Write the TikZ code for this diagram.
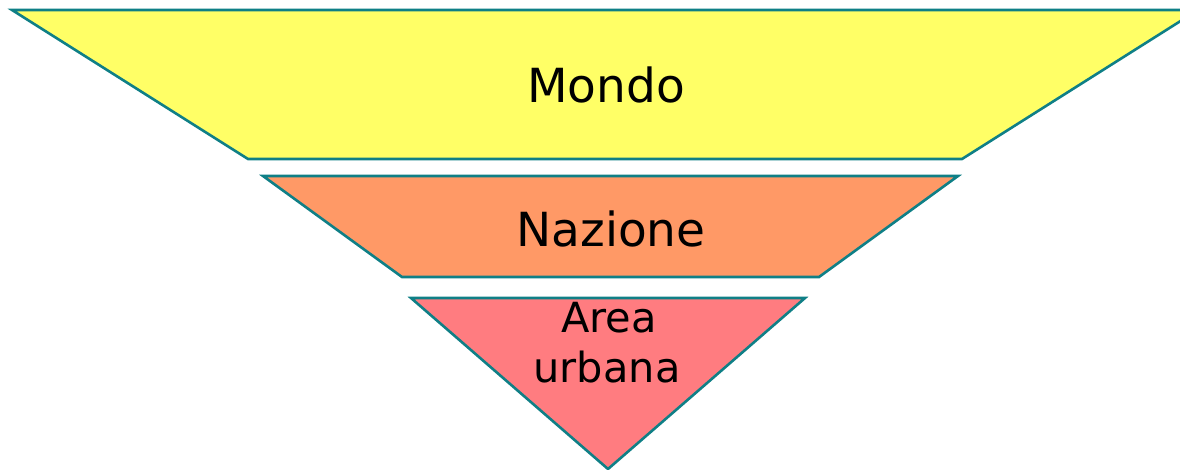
\documentclass[tikz,border=0pt]{standalone}
\usepackage{fontspec}
\setmainfont{DejaVu Sans}
\definecolor{edgeteal}{HTML}{0F7F86}
\definecolor{tierone}{HTML}{FFFF66}
\definecolor{tiertwo}{HTML}{FF9966}
\definecolor{tierthree}{HTML}{FF7C80}
\tikzset{
  tier/.style={draw=edgeteal, line width=2.6pt, line join=miter},
  label/.style={anchor=base, inner sep=0pt, text=black},
}
\begin{document}
\begin{tikzpicture}[x=1pt,y=-1pt]
  \useasboundingbox (0,0) rectangle (1180,470);
  \clip (0,0) rectangle (1180,470);
  % world level
  \draw[tier, fill=tierone] (12,10) -- (1198,10) -- (962,159) -- (248,159) -- cycle;
  % nation level
  \draw[tier, fill=tiertwo] (263,176) -- (958,176) -- (819,277) -- (402,277) -- cycle;
  % urban area level
  \draw[tier, fill=tierthree] (411,298) -- (805,298) -- (608,469) -- cycle;
  % labels
  \node[label, font=\fontsize{47}{50}\selectfont] (mondo) at (606,103) {Mondo};
  \node[label, font=\fontsize{47}{50}\selectfont] (nazione) at (611,247) {Nazione};
  \node[label, font=\fontsize{41.5}{50}\selectfont] (area) at (609,332) {Area};
  \node[label, font=\fontsize{41.5}{50}\selectfont] (urbana) at (607,382) {urbana};
\end{tikzpicture}
\end{document}
